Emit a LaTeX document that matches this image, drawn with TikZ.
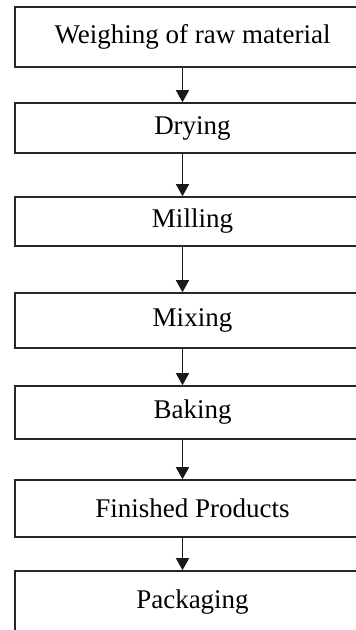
\documentclass[tikz,border=0pt]{standalone}
\usepackage{fontspec}
\setmainfont{Liberation Serif}
\usetikzlibrary{arrows.meta}
\begin{document}
\begin{tikzpicture}[x=1pt,y=-1pt,
  box/.style={draw=black!85,line width=1.6pt,rectangle,minimum width=355pt,inner sep=0pt,
    font=\fontsize{27}{30}\selectfont,text=black},
  arr/.style={draw=black!90,line width=1.3pt,-{Triangle[width=13pt,length=12pt]}}]
\useasboundingbox (0,0) rectangle (356,630);
\clip (0,0) rectangle (356,630);
\fill[white] (0,0) rectangle (356,630);
\node[box,minimum height=60pt] (a) at (192.5,37) {Weighing of raw material};
\node[box,minimum height=50pt] (b) at (192.5,128) {Drying};
\node[box,minimum height=49pt] (c) at (192.5,221.5) {Milling};
\node[box,minimum height=55pt] (d) at (192.5,320.5) {Mixing};
\node[box,minimum height=53pt] (e) at (192.5,412.5) {Baking};
\node[box,minimum height=57pt] (f) at (192.5,508.5) {Finished Products};
\node[box,minimum height=62pt] (g) at (192.5,602) {Packaging};
\foreach \s/\t in {a/b,b/c,c/d,d/e,e/f,f/g}
  \draw[arr] ([xshift=-10pt]\s.south) -- ([xshift=-10pt]\t.north);
\end{tikzpicture}
\end{document}
